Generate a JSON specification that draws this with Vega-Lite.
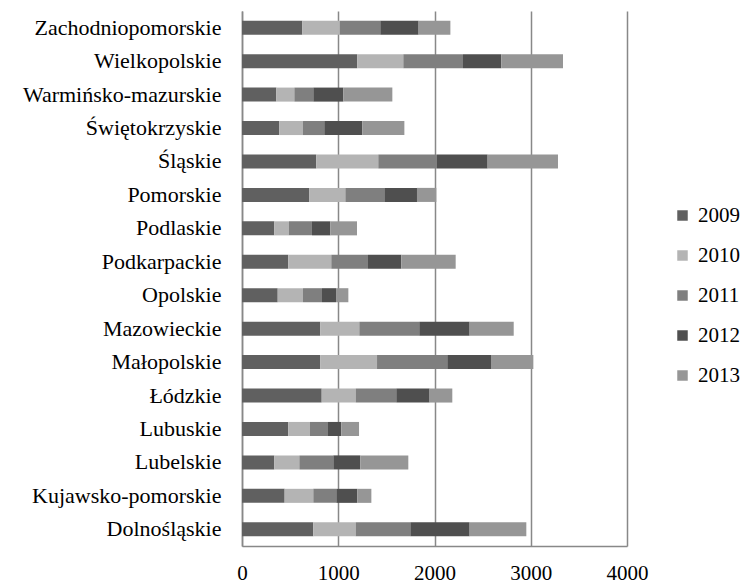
{
  "$schema": "https://vega.github.io/schema/vega-lite/v6.json",
  "width": 385,
  "height": 535,
  "autosize": {"type": "none"},
  "padding": {"left": 242, "top": 11, "right": 115, "bottom": 37},
  "background": "white",
  "config": {
    "view": {"stroke": null},
    "font": "Liberation Serif",
    "axis": {"labelFont": "Liberation Serif", "labelFontSize": 21, "labelColor": "#000000", "ticks": false, "title": null, "labelLimit": 400},
    "legend": {"labelFont": "Liberation Serif", "labelFontSize": 21, "labelColor": "#000000", "labelLimit": 200}
  },
  "data": {
    "values": [
      {"region": "Zachodniopomorskie", "year": "2009", "value": 627},
      {"region": "Zachodniopomorskie", "year": "2010", "value": 388},
      {"region": "Zachodniopomorskie", "year": "2011", "value": 422},
      {"region": "Zachodniopomorskie", "year": "2012", "value": 398},
      {"region": "Zachodniopomorskie", "year": "2013", "value": 330},
      {"region": "Wielkopolskie", "year": "2009", "value": 1198},
      {"region": "Wielkopolskie", "year": "2010", "value": 478},
      {"region": "Wielkopolskie", "year": "2011", "value": 620},
      {"region": "Wielkopolskie", "year": "2012", "value": 398},
      {"region": "Wielkopolskie", "year": "2013", "value": 641},
      {"region": "Warmińsko-mazurskie", "year": "2009", "value": 357},
      {"region": "Warmińsko-mazurskie", "year": "2010", "value": 187},
      {"region": "Warmińsko-mazurskie", "year": "2011", "value": 197},
      {"region": "Warmińsko-mazurskie", "year": "2012", "value": 312},
      {"region": "Warmińsko-mazurskie", "year": "2013", "value": 509},
      {"region": "Świętokrzyskie", "year": "2009", "value": 388},
      {"region": "Świętokrzyskie", "year": "2010", "value": 246},
      {"region": "Świętokrzyskie", "year": "2011", "value": 221},
      {"region": "Świętokrzyskie", "year": "2012", "value": 395},
      {"region": "Świętokrzyskie", "year": "2013", "value": 437},
      {"region": "Śląskie", "year": "2009", "value": 772},
      {"region": "Śląskie", "year": "2010", "value": 644},
      {"region": "Śląskie", "year": "2011", "value": 610},
      {"region": "Śląskie", "year": "2012", "value": 526},
      {"region": "Śląskie", "year": "2013", "value": 731},
      {"region": "Pomorskie", "year": "2009", "value": 700},
      {"region": "Pomorskie", "year": "2010", "value": 374},
      {"region": "Pomorskie", "year": "2011", "value": 405},
      {"region": "Pomorskie", "year": "2012", "value": 339},
      {"region": "Pomorskie", "year": "2013", "value": 201},
      {"region": "Podlaskie", "year": "2009", "value": 336},
      {"region": "Podlaskie", "year": "2010", "value": 152},
      {"region": "Podlaskie", "year": "2011", "value": 239},
      {"region": "Podlaskie", "year": "2012", "value": 191},
      {"region": "Podlaskie", "year": "2013", "value": 277},
      {"region": "Podkarpackie", "year": "2009", "value": 481},
      {"region": "Podkarpackie", "year": "2010", "value": 447},
      {"region": "Podkarpackie", "year": "2011", "value": 381},
      {"region": "Podkarpackie", "year": "2012", "value": 346},
      {"region": "Podkarpackie", "year": "2013", "value": 565},
      {"region": "Opolskie", "year": "2009", "value": 371},
      {"region": "Opolskie", "year": "2010", "value": 263},
      {"region": "Opolskie", "year": "2011", "value": 197},
      {"region": "Opolskie", "year": "2012", "value": 146},
      {"region": "Opolskie", "year": "2013", "value": 128},
      {"region": "Mazowieckie", "year": "2009", "value": 814},
      {"region": "Mazowieckie", "year": "2010", "value": 405},
      {"region": "Mazowieckie", "year": "2011", "value": 623},
      {"region": "Mazowieckie", "year": "2012", "value": 523},
      {"region": "Mazowieckie", "year": "2013", "value": 458},
      {"region": "Małopolskie", "year": "2009", "value": 814},
      {"region": "Małopolskie", "year": "2010", "value": 589},
      {"region": "Małopolskie", "year": "2011", "value": 730},
      {"region": "Małopolskie", "year": "2012", "value": 454},
      {"region": "Małopolskie", "year": "2013", "value": 440},
      {"region": "Łódzkie", "year": "2009", "value": 828},
      {"region": "Łódzkie", "year": "2010", "value": 353},
      {"region": "Łódzkie", "year": "2011", "value": 422},
      {"region": "Łódzkie", "year": "2012", "value": 346},
      {"region": "Łódzkie", "year": "2013", "value": 236},
      {"region": "Lubuskie", "year": "2009", "value": 481},
      {"region": "Lubuskie", "year": "2010", "value": 225},
      {"region": "Lubuskie", "year": "2011", "value": 181},
      {"region": "Lubuskie", "year": "2012", "value": 145},
      {"region": "Lubuskie", "year": "2013", "value": 184},
      {"region": "Lubelskie", "year": "2009", "value": 336},
      {"region": "Lubelskie", "year": "2010", "value": 260},
      {"region": "Lubelskie", "year": "2011", "value": 353},
      {"region": "Lubelskie", "year": "2012", "value": 280},
      {"region": "Lubelskie", "year": "2013", "value": 499},
      {"region": "Kujawsko-pomorskie", "year": "2009", "value": 443},
      {"region": "Kujawsko-pomorskie", "year": "2010", "value": 298},
      {"region": "Kujawsko-pomorskie", "year": "2011", "value": 239},
      {"region": "Kujawsko-pomorskie", "year": "2012", "value": 218},
      {"region": "Kujawsko-pomorskie", "year": "2013", "value": 146},
      {"region": "Dolnośląskie", "year": "2009", "value": 741},
      {"region": "Dolnośląskie", "year": "2010", "value": 440},
      {"region": "Dolnośląskie", "year": "2011", "value": 568},
      {"region": "Dolnośląskie", "year": "2012", "value": 616},
      {"region": "Dolnośląskie", "year": "2013", "value": 589}
    ]
  },
  "mark": {"type": "bar"},
  "encoding": {
    "y": {
      "field": "region",
      "type": "nominal",
      "sort": ["Zachodniopomorskie", "Wielkopolskie", "Warmińsko-mazurskie", "Świętokrzyskie", "Śląskie", "Pomorskie", "Podlaskie", "Podkarpackie", "Opolskie", "Mazowieckie", "Małopolskie", "Łódzkie", "Lubuskie", "Lubelskie", "Kujawsko-pomorskie", "Dolnośląskie"],
      "scale": {"paddingInner": 0.58, "paddingOuter": 0.29},
      "axis": {"labelPadding": 21, "labelFontSize": 22, "domain": true, "domainColor": "#888888", "domainWidth": 1.5, "grid": false}
    },
    "x": {
      "field": "value",
      "type": "quantitative",
      "aggregate": "sum",
      "stack": "zero",
      "scale": {"domain": [0, 4000], "nice": false},
      "axis": {"values": [0, 1000, 2000, 3000, 4000], "labelPadding": 16, "grid": true, "gridColor": "#888888", "gridWidth": 1.5, "domain": true, "domainColor": "#888888", "domainWidth": 1.5, "format": "d", "labelFlush": false}
    },
    "color": {
      "field": "year",
      "type": "nominal",
      "scale": {"domain": ["2009", "2010", "2011", "2012", "2013"], "range": ["#606060", "#b4b4b4", "#7f7f7f", "#4f4f4f", "#969696"]},
      "legend": {"title": null, "orient": "none", "legendX": 430, "legendY": 194, "symbolType": "square", "symbolSize": 110, "symbolStrokeWidth": 0, "rowPadding": 18, "labelOffset": 5}
    },
    "order": {"field": "year", "type": "nominal"}
  }
}
